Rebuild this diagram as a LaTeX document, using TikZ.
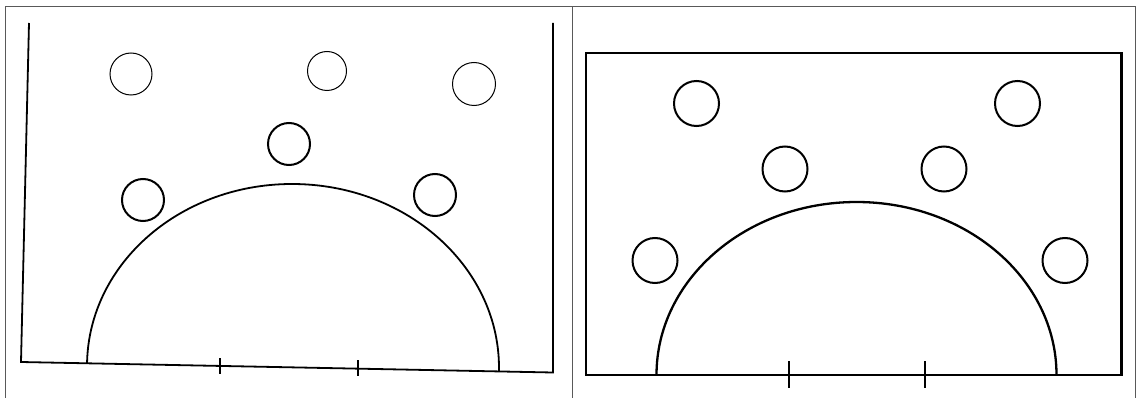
\documentclass[tikz,border=0pt]{standalone}
\usepackage{tikz}

\begin{document}
\begin{tikzpicture}[x=1pt,y=-1pt,
  frameline/.style={draw=black!65,line width=0.9pt},
  sketch/.style={line width=1.8pt},
  clean/.style={line width=2.6pt},
  spotthin/.style={draw,circle,inner sep=0pt,minimum size=42pt,line width=1pt},
  spotthick/.style={draw,circle,inner sep=0pt,minimum size=42pt,line width=2pt},
  spot/.style={draw,circle,inner sep=0pt,minimum size=45pt,line width=2pt}]

\useasboundingbox (0,0) rectangle (1139,398);

% --- Outer frame ---
\draw[frameline] (5.5,398) -- (5.5,6.5) -- (1135,6.5) -- (1135,398);
\draw[frameline] (572,6.5) -- (572,398);

% --- Left panel (hand drawn) ---
\draw[sketch] (29,23) -- (21,362) -- (553,372.5) -- (553,23);
\draw[sketch,rotate around={-1.1:(293,367)}] (87,367) arc[start angle=180,end angle=360,x radius=206,y radius=183];
\foreach \x/\yt in {220/358,358/360} \draw[line width=1.5pt] (\x,\yt) -- (\x,\yt+16);

\node[spotthin] (l1) at (131,74) {};
\node[spotthin,minimum size=39pt] (l2) at (327,71) {};
\node[spotthin,minimum size=43pt] (l3) at (474,84) {};
\node[spotthick] (l4) at (289,144) {};
\node[spotthick] (l5) at (143,200) {};
\node[spotthick] (l6) at (435,195) {};

% --- Right panel ---
\draw[clean] (586,53) rectangle (1121.5,375);
\draw[line width=2.3pt] (656.5,375) arc[start angle=180,end angle=360,x radius=200,y radius=173];
\foreach \x in {789,925} \draw[line width=2.3pt] (\x,361) -- (\x,388);

\foreach \n/\x/\y in {r1/696.5/103.5,r2/1017.5/103.5,r3/785/169,r4/944/169,r5/655/260.5,r6/1065/260.5}
  \node[spot] (\n) at (\x,\y) {};

\end{tikzpicture}
\end{document}
